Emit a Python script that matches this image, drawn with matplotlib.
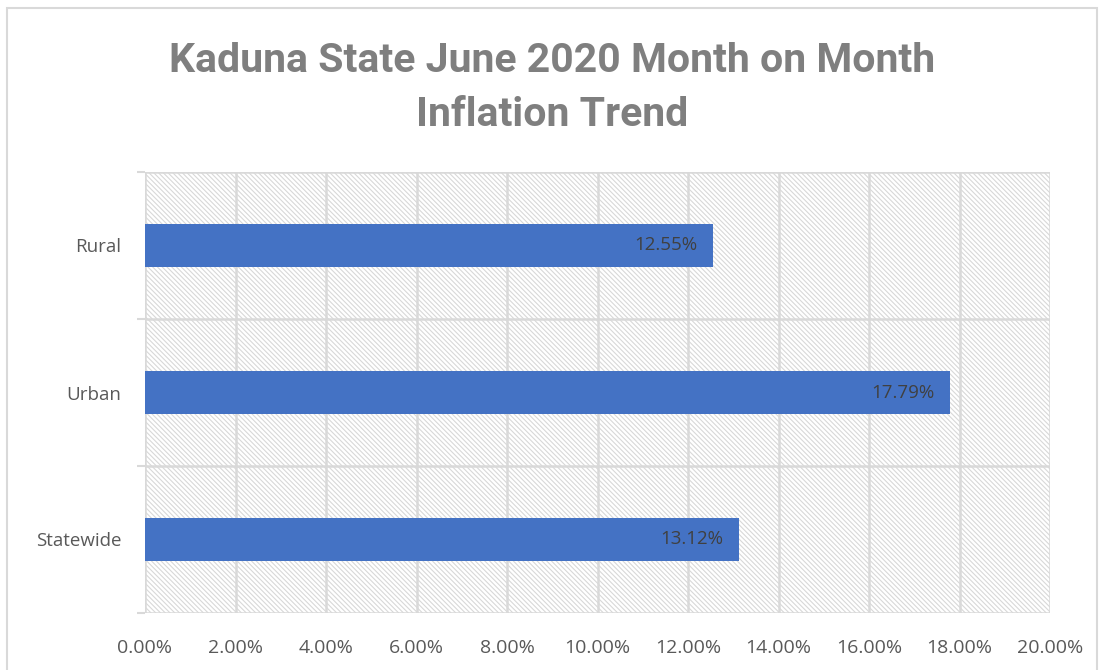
import matplotlib
matplotlib.use("Agg")
import matplotlib.pyplot as plt
from matplotlib.patches import Rectangle
from matplotlib.ticker import FixedLocator, PercentFormatter

categories = ["Statewide", "Urban", "Rural"]
values = [13.12, 17.79, 12.55]
xticks = [0, 2, 4, 6, 8, 10, 12, 14, 16, 18, 20]

title_font = "Roboto"
body_font = "Open Sans"

plt.rcParams["hatch.color"] = "#d8d8d8"
plt.rcParams["hatch.linewidth"] = 0.8

fig = plt.figure(figsize=(11.04, 6.70), dpi=100)
ax = fig.add_axes([145/1104, 1-613/670, (1050-145)/1104, (613-172)/670])

# hatched background
bg = Rectangle((0, 0), 1, 1, transform=ax.transAxes, facecolor="white",
               edgecolor="#d8d8d8", linewidth=0, hatch="\\" * 7, zorder=0)
ax.add_patch(bg)

y = list(range(len(categories)))
ax.barh(y, values, height=0.29, color="#4472c4", zorder=3)
for yi, v in zip(y, values):
    ax.text(v - 0.35, yi, f"{v:.2f}%", ha="right", va="center",
            fontsize=13.5, color="#404040", family=body_font, zorder=4)

ax.set_xlim(0, 20)
ax.set_ylim(-0.5, 2.5)
ax.xaxis.set_major_locator(FixedLocator(xticks))
ax.xaxis.set_major_formatter(PercentFormatter(decimals=2))
ax.set_yticks(y)
ax.set_yticklabels(categories)
ax.yaxis.set_minor_locator(FixedLocator([-0.5, 0.5, 1.5, 2.5]))
ax.tick_params(axis="y", which="major", length=0, pad=17, labelsize=13.5,
               labelcolor="#595959")
ax.tick_params(axis="y", which="minor", length=6, color="#d9d9d9", width=1.5)
ax.tick_params(axis="x", which="major", length=0, pad=19, labelsize=14,
               labelcolor="#595959")
for lab in ax.get_xticklabels() + ax.get_yticklabels():
    lab.set_family(body_font)

ax.grid(axis="x", which="major", color="#d9d9d9", linewidth=1.8, zorder=1)
ax.grid(axis="y", which="minor", color="#d9d9d9", linewidth=1.8, zorder=1)
ax.set_axisbelow(True)
for s in ax.spines.values():
    s.set_visible(False)

fig.text(0.5, 1-88/670, "Kaduna State June 2020 Month on Month\nInflation Trend",
         ha="center", va="center", fontsize=29.5, fontweight="bold",
         color="#7f7f7f", family=title_font, linespacing=1.5)

# outer chart border
fig.patches.append(Rectangle((7/1104, -0.05), (1097-7)/1104, 1-8/670+0.05,
                             transform=fig.transFigure, fill=False,
                             edgecolor="#d9d9d9", linewidth=1.5))

fig.savefig("out.png", dpi=100)
